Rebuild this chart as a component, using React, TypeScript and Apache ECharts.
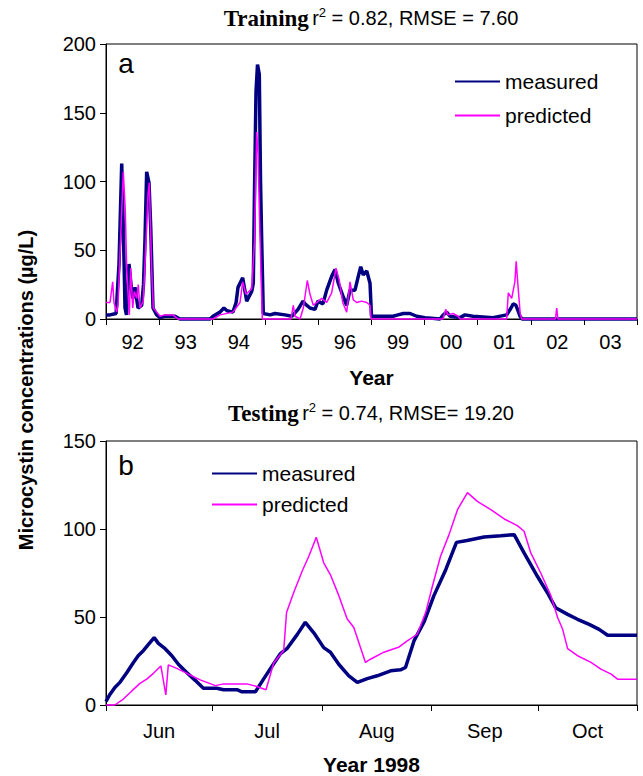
import React, { useEffect, useRef } from 'react';
import * as echarts from 'echarts';

const SANS = '"Liberation Sans", Arial, sans-serif';
const SERIF = '"Liberation Serif", "Times New Roman", serif';

// Training period: x = year index (0 = start of '92 ... 10 = end of '03)
const yearLabels = ['92', '93', '94', '95', '96', '99', '00', '01', '02', '03'];
const trainMeasured: [number, number][] = [
  [0, 3], [0.075, 3], [0.19, 4], [0.245, 40], [0.296, 113], [0.33, 60], [0.358, 8], [0.386, 3],
  [0.433, 40], [0.484, 20], [0.508, 15], [0.546, 23], [0.603, 8], [0.672, 10], [0.706, 25],
  [0.734, 57], [0.766, 107], [0.81, 99], [0.842, 67], [0.885, 8], [0.955, 3], [1.017, 1],
  [1.11, 2], [1.3, 2], [1.39, 0], [1.96, 0], [2.015, 2], [2.147, 5], [2.22, 8], [2.28, 6],
  [2.39, 5], [2.45, 12], [2.486, 23], [2.574, 30], [2.65, 13], [2.744, 20], [2.774, 26],
  [2.797, 94], [2.825, 165], [2.853, 185], [2.887, 178], [2.91, 100], [2.932, 57], [2.962, 4],
  [3.09, 3], [3.18, 4], [3.37, 3], [3.5, 2], [3.616, 7], [3.71, 13], [3.748, 11], [3.842, 8],
  [3.936, 7], [3.992, 13], [4.086, 11], [4.156, 21], [4.25, 31], [4.313, 36], [4.375, 26],
  [4.469, 16], [4.533, 10], [4.595, 21], [4.689, 21], [4.751, 31], [4.797, 38], [4.845, 32],
  [4.91, 35], [4.972, 26], [5.0, 2], [5.16, 2], [5.405, 2], [5.5, 3], [5.599, 4], [5.725, 4],
  [5.851, 2], [6.008, 1], [6.29, 0], [6.352, 3], [6.416, 5], [6.478, 2], [6.667, 1], [6.761, 3],
  [6.911, 2], [7.288, 1], [7.546, 3], [7.627, 8], [7.67, 11], [7.72, 10], [7.797, 2], [7.834, 0],
  [10, 0],
];
const trainPredicted: [number, number][] = [
  [0, 12], [0.075, 12], [0.126, 27], [0.15, 12], [0.2, 5], [0.226, 10], [0.264, 48], [0.326, 107],
  [0.363, 79], [0.39, 35], [0.439, 3], [0.465, 37], [0.503, 8], [0.533, 20], [0.578, 15],
  [0.608, 25], [0.64, 8], [0.702, 13], [0.766, 67], [0.79, 90], [0.815, 99], [0.861, 35],
  [0.891, 8], [0.955, 5], [1.017, 2], [1.11, 3], [1.26, 3], [1.356, 0], [2.015, 0], [2.147, 3],
  [2.39, 5], [2.524, 12], [2.574, 27], [2.637, 18], [2.744, 22], [2.797, 57], [2.838, 136],
  [2.863, 120], [2.9, 60], [2.944, 0], [3.484, 0], [3.527, 10], [3.56, 2], [3.654, 0], [3.716, 8],
  [3.791, 28], [3.842, 18], [3.904, 10], [3.968, 12], [4.062, 15], [4.156, 12], [4.25, 19],
  [4.331, 37], [4.394, 28], [4.458, 12], [4.533, 5], [4.595, 27], [4.657, 14], [4.721, 12],
  [4.815, 13], [4.91, 12], [4.972, 10], [4.99, 0], [6.347, 0], [6.397, 7], [6.44, 3], [6.535, 4],
  [6.63, 2], [6.667, 0], [7.546, 0], [7.576, 19], [7.64, 15], [7.7, 27], [7.725, 42], [7.755, 26],
  [7.8, 4], [7.83, 0], [8.465, 0], [8.488, 8], [8.51, 0], [10, 0],
];
const trainYTicks = { min: 0, max: 200, step: 50 };

// Testing period 1998: x = days since 1 June
const monthLabels = ['Jun', 'Jul', 'Aug', 'Sep', 'Oct'];
const monthBounds = [0, 30, 61, 92, 122, 150];
const testMeasured: [number, number][] = [
  [0, 2], [1.1, 6], [2.5, 10], [4, 13], [5.9, 18.5], [7.7, 24], [9.1, 28], [10.6, 31], [12, 34.5],
  [13.6, 38.3], [14.8, 35], [16.7, 32], [18.6, 28], [20.5, 23], [22.8, 18.5], [25.2, 14],
  [27.5, 9.5], [31.3, 9.5], [33.2, 8.7], [37, 8.7], [38.4, 7.5], [42.2, 7.5], [44.5, 14.7],
  [46.9, 22], [49.2, 29], [51.1, 32], [54, 40], [56.3, 47], [58.7, 41], [61.5, 32.6], [63.4, 30],
  [65.8, 23], [68.6, 16.6], [71, 12.8], [73.8, 15], [76.6, 16.6], [80.4, 19.4], [83.2, 20],
  [84.6, 21.3], [87, 36.4], [89.8, 47], [92.6, 62], [96, 77], [99, 92.4], [102, 93.5],
  [106.8, 95.5], [111.5, 96.2], [115.3, 96.8], [118.1, 86.4], [121.9, 73], [124.7, 63.8],
  [127, 55.3], [130.4, 51.5], [133.2, 48.7], [136.5, 45.8], [139.3, 43], [141.7, 39.6], [150, 39.6],
];
const testPredicted: [number, number][] = [
  [0, 0], [2.5, 0], [4.9, 3.4], [7.3, 8], [9.6, 12.3], [11.5, 14.7], [13.4, 18], [15.5, 22.2],
  [16.9, 5.7], [17.6, 22.8], [20, 20.8], [23.3, 17.5], [26.6, 14.3], [30.9, 11], [33.2, 12],
  [39.8, 12], [42.6, 10.5], [45.2, 8.7], [47.4, 24], [50.2, 31], [51, 52.5], [53, 63.8],
  [55.4, 76], [57.3, 84.5], [59.4, 95.3], [61.5, 80.8], [63.4, 74], [65.8, 62], [68.1, 49],
  [70, 44], [73.3, 24.2], [74.7, 26], [78.5, 30], [82.8, 33], [85.1, 36.4], [87.9, 40.2],
  [90.3, 52.5], [92.2, 67.5], [94.5, 84.5], [96.9, 96.8], [99.3, 111], [102.1, 120.7],
  [104.9, 115.7], [108.7, 111], [112.5, 105.7], [116.2, 101.9], [118.1, 98.7], [120, 86.4],
  [122.8, 75], [125.7, 62], [127.6, 49.6], [129, 43], [130.4, 32], [133.2, 28], [137, 24.2],
  [139.8, 20.4], [142.7, 17.5], [144.5, 14.7], [150, 14.7],
];
const testYTicks = { min: 0, max: 150, step: 50 };

const NAVY = '#000080';
const MAGENTA = '#FF00FF';

export default function App() {
  const ref = useRef<HTMLDivElement>(null);
  useEffect(() => {
    if (!ref.current) return;
    const chart = echarts.init(ref.current, null, { renderer: 'svg' });

    const axisCommon = {
      axisLine: { show: true, onZero: false, lineStyle: { color: '#000', width: 1 } },
      axisTick: { show: true, length: 6, lineStyle: { color: '#000', width: 1 } },
      splitLine: { show: false },
    };
    const labelStyle = { color: '#000', fontSize: 20, fontFamily: SANS };
    const nameStyle = { color: '#000', fontSize: 21, fontWeight: 'bold', fontFamily: SANS };

    const yearTicks = yearLabels.map((_, i) => i).concat([yearLabels.length]);
    const yearMids = yearLabels.map((_, i) => i + 0.5);
    const monthMids = monthLabels.map((_, i) => (monthBounds[i] + monthBounds[i + 1]) / 2);

    const supTitle = (bold: string, rest: string) => ({
      type: 'text',
      x: 371,
      style: {
        text: `{b|${bold}} {n|r}{s|2}{n|${rest}}`,
        align: 'center',
        verticalAlign: 'middle',
        fill: '#000',
        rich: {
          b: { fontFamily: SERIF, fontWeight: 'bold', fontSize: 23, fill: '#000', lineHeight: 24 },
          n: { fontFamily: SANS, fontSize: 20, fill: '#000', lineHeight: 24 },
          s: { fontFamily: SANS, fontSize: 13, fill: '#000', verticalAlign: 'top', lineHeight: 14 },
        },
      },
    });

    const legendCommon = {
      data: ['measured', 'predicted'],
      orient: 'vertical',
      itemWidth: 45,
      itemHeight: 14,
      selectedMode: false,
      itemStyle: { opacity: 0 },
      textStyle: { color: '#000', fontSize: 21, fontFamily: SANS },
    };

    chart.setOption({
      animation: false,
      backgroundColor: '#fff',
      grid: [
        { left: 106, top: 44, width: 531, height: 275, show: true, borderColor: '#000', borderWidth: 1, backgroundColor: 'transparent' },
        { left: 106, top: 441, width: 531, height: 265, show: true, borderColor: '#000', borderWidth: 1, backgroundColor: 'transparent' },
      ],
      xAxis: [
        {
          gridIndex: 0, type: 'value', min: 0, max: yearLabels.length, interval: 1,
          ...axisCommon,
          axisTick: { ...axisCommon.axisTick, customValues: yearTicks },
          axisLabel: {
            ...labelStyle, margin: 13, customValues: yearMids,
            formatter: (v: number) => yearLabels[Math.floor(v)] ?? '',
          },
          name: 'Year', nameLocation: 'middle', nameGap: 48, nameTextStyle: nameStyle,
        },
        {
          gridIndex: 1, type: 'value', min: monthBounds[0], max: monthBounds[monthBounds.length - 1],
          ...axisCommon,
          axisTick: { ...axisCommon.axisTick, customValues: monthBounds },
          axisLabel: {
            ...labelStyle, margin: 16, customValues: monthMids,
            formatter: (v: number) => {
              const i = monthMids.findIndex((m) => Math.abs(m - v) < 0.01);
              return i >= 0 ? monthLabels[i] : '';
            },
          },
          name: 'Year 1998', nameLocation: 'middle', nameGap: 49, nameTextStyle: nameStyle,
        },
      ],
      yAxis: [
        {
          gridIndex: 0, type: 'value', min: trainYTicks.min, max: trainYTicks.max, interval: trainYTicks.step,
          ...axisCommon, axisLabel: { ...labelStyle, margin: 10 },
        },
        {
          gridIndex: 1, type: 'value', min: testYTicks.min, max: testYTicks.max, interval: testYTicks.step,
          ...axisCommon, axisLabel: { ...labelStyle, margin: 10 },
        },
      ],
      legend: [
        { ...legendCommon, left: 449, top: 66, itemGap: 13 },
        { ...legendCommon, left: 206, top: 458, itemGap: 10 },
      ],
      series: [
        {
          name: 'measured', type: 'line', xAxisIndex: 0, yAxisIndex: 0, data: trainMeasured,
          symbol: 'none', showSymbol: false, lineStyle: { color: NAVY, width: 3.5 }, itemStyle: { color: NAVY },
          clip: false,
        },
        {
          name: 'predicted', type: 'line', xAxisIndex: 0, yAxisIndex: 0, data: trainPredicted,
          symbol: 'none', showSymbol: false, lineStyle: { color: MAGENTA, width: 1.5 }, itemStyle: { color: MAGENTA },
          clip: false,
        },
        {
          name: 'measured', type: 'line', xAxisIndex: 1, yAxisIndex: 1, data: testMeasured,
          symbol: 'none', showSymbol: false, lineStyle: { color: NAVY, width: 3.5 }, itemStyle: { color: NAVY },
          clip: false,
        },
        {
          name: 'predicted', type: 'line', xAxisIndex: 1, yAxisIndex: 1, data: testPredicted,
          symbol: 'none', showSymbol: false, lineStyle: { color: MAGENTA, width: 1.5 }, itemStyle: { color: MAGENTA },
          clip: false,
        },
      ],
      graphic: [
        { ...supTitle('Training', ' = 0.82, RMSE = 7.60'), y: 18 },
        { ...supTitle('Testing', ' = 0.74, RMSE= 19.20'), y: 413 },
        {
          type: 'text', x: 126, y: 63,
          style: { text: 'a', fill: '#000', fontSize: 28, fontFamily: SANS, align: 'center', verticalAlign: 'middle' },
        },
        {
          type: 'text', x: 126, y: 465,
          style: { text: 'b', fill: '#000', fontSize: 28, fontFamily: SANS, align: 'center', verticalAlign: 'middle' },
        },
        {
          type: 'text', x: 26, y: 390, rotation: Math.PI / 2,
          style: {
            text: 'Microcystin concentrations (µg/L)', fill: '#000', fontSize: 20, fontWeight: 'bold',
            fontFamily: SANS, align: 'center', verticalAlign: 'middle',
          },
        },
      ],
    });
    return () => chart.dispose();
  }, []);
  return <div ref={ref} style={{ width: 643, height: 776, position: 'absolute', left: 0, top: 0 }} />;
}
